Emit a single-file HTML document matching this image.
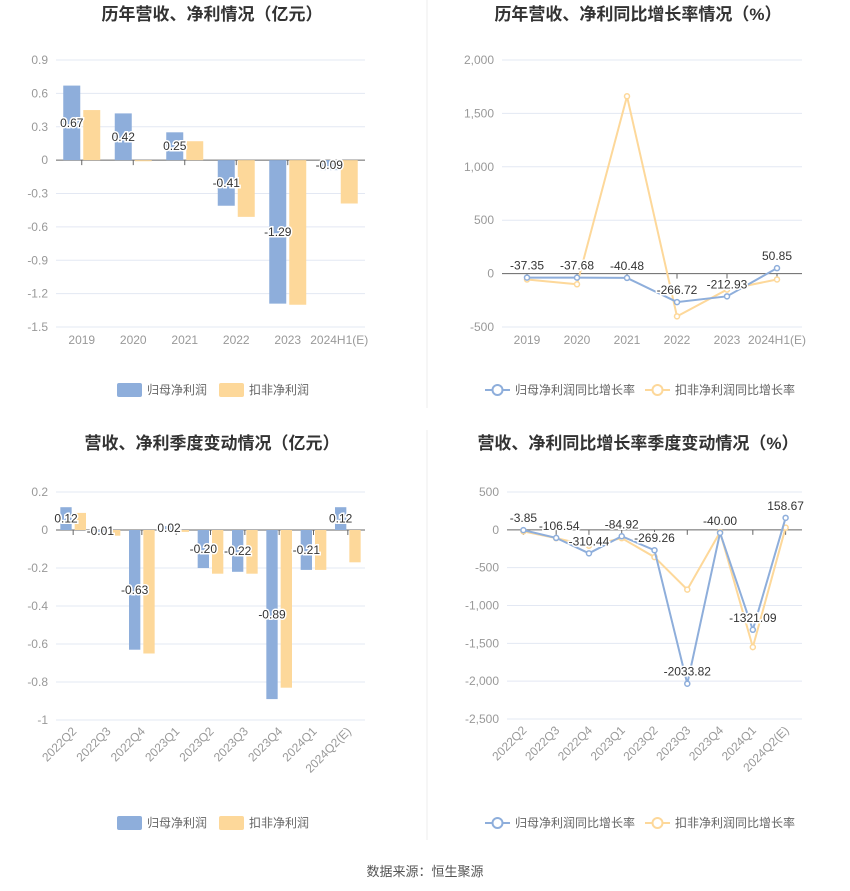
<!DOCTYPE html>
<html><head><meta charset="utf-8">
<style>
body{margin:0;background:#fff;font-family:"Liberation Sans","Noto Sans CJK SC",sans-serif;}
svg{display:block}
</style></head>
<body>
<svg id="s" width="850" height="891" xmlns="http://www.w3.org/2000/svg" font-family="Liberation Sans, Noto Sans CJK SC, sans-serif">
<line x1="427" y1="0" x2="427" y2="408" stroke="#eee"/>
<line x1="427" y1="430" x2="427" y2="840" stroke="#eee"/>
<text x="212" y="20" text-anchor="middle" font-size="17" font-weight="bold" fill="#333">历年营收、净利情况（亿元）</text>
<text x="638" y="20" text-anchor="middle" font-size="17" font-weight="bold" fill="#333">历年营收、净利同比增长率情况（%）</text>
<text x="212" y="449" text-anchor="middle" font-size="17" font-weight="bold" fill="#333">营收、净利季度变动情况（亿元）</text>
<text x="638" y="449" text-anchor="middle" font-size="17" font-weight="bold" fill="#333">营收、净利同比增长率季度变动情况（%）</text>
<text x="425" y="876" text-anchor="middle" font-size="13" fill="#555">数据来源：恒生聚源</text>
</svg>
<script>
const c1Cats=["2019","2020","2021","2022","2023","2024H1(E)"];
const c1Blue=[0.67,0.42,0.25,-0.41,-1.29,-0.09];
const c1Orange=[0.45,-0.01,0.17,-0.51,-1.30,-0.39];
const c1Ticks=[0.9,0.6,0.3,0,-0.3,-0.6,-0.9,-1.2,-1.5];
const c1TickLabels=["0.9","0.6","0.3","0","-0.3","-0.6","-0.9","-1.2","-1.5"];

const c2Cats=["2019","2020","2021","2022","2023","2024H1(E)"];
const c2Blue=[-37.35,-37.68,-40.48,-266.72,-212.93,50.85];
const c2Orange=[-55,-100,1660,-400,-150,-55];
const c2Ticks=[2000,1500,1000,500,0,-500];
const c2TickLabels=["2,000","1,500","1,000","500","0","-500"];

const c3Cats=["2022Q2","2022Q3","2022Q4","2023Q1","2023Q2","2023Q3","2023Q4","2024Q1","2024Q2(E)"];
const c3Blue=[0.12,-0.01,-0.63,0.02,-0.20,-0.22,-0.89,-0.21,0.12];
const c3Orange=[0.09,-0.03,-0.65,-0.01,-0.23,-0.23,-0.83,-0.21,-0.17];
const c3Ticks=[0.2,0,-0.2,-0.4,-0.6,-0.8,-1];
const c3TickLabels=["0.2","0","-0.2","-0.4","-0.6","-0.8","-1"];

const c4Cats=["2022Q2","2022Q3","2022Q4","2023Q1","2023Q2","2023Q3","2023Q4","2024Q1","2024Q2(E)"];
const c4Blue=[-3.85,-106.54,-310.44,-84.92,-269.26,-2033.82,-40.00,-1321.09,158.67];
const c4Orange=[-20,-110,-210,-110,-360,-790,-30,-1550,30];
const c4Ticks=[500,0,-500,-1000,-1500,-2000,-2500];
const c4TickLabels=["500","0","-500","-1,000","-1,500","-2,000","-2,500"];

const NS="http://www.w3.org/2000/svg";
const svg=document.getElementById('s');
const BLUE="#8eaedb",ORANGE="#fdd89a";
function mk(tag,attrs,parent){const e=document.createElementNS(NS,tag);for(const k in attrs)e.setAttribute(k,attrs[k]);(parent||svg).appendChild(e);return e;}
function txt(x,y,s,attrs){const e=mk('text',Object.assign({x:x,y:y},attrs));e.textContent=s;return e;}

function axes(o,ticks,labels,cats,rot,name){
  const g=mk('g',{});
  
  
  const y=v=>o.y0+(v-o.vmax)/(o.vmin-o.vmax)*(o.y1-o.y0);
  ticks.forEach((t,i)=>{
    const l=mk('line',{x1:o.x0,x2:o.x1,y1:y(t),y2:y(t),stroke:t===0?'#666':'#e3e8f3'},g);
    
    
    const tx=txt(o.x0-8,y(t)+4,labels[i],{'text-anchor':'end','font-size':12,fill:'#999'});
    
    
    g.appendChild(tx);
  });
  const bw=(o.x1-o.x0)/cats.length;
  const x=i=>o.x0+bw*(i+0.5);
  cats.forEach((c,i)=>{
    const tk=mk('line',{x1:x(i),x2:x(i),y1:y(0),y2:y(0)+5,stroke:'#666'},g);
    
    
    let t;
    if(rot){t=txt(x(i)+4,o.y1+12,c,{'text-anchor':'end','font-size':12,fill:'#999',transform:`rotate(-45 ${x(i)+4} ${o.y1+12})`});}
    else t=txt(x(i),o.y1+17,c,{'text-anchor':'middle','font-size':12,fill:'#999'});
    
    
    g.appendChild(t);
  });
  return {x,y,bw};
}
function label(x,y,s){
  const t=txt(x,y,s,{'text-anchor':'middle','font-size':12,fill:'#333',stroke:'#fff','stroke-width':3,'paint-order':'stroke'});
  
  
}
function barChart(o,ticks,labels,cats,blue,orange,rot,name,dec){
  const a=axes(o,ticks,labels,cats,rot,name);
  const w=a.bw*0.33;
  cats.forEach((c,i)=>{
    [[blue,BLUE,-1],[orange,ORANGE,1]].forEach(([arr,col,s])=>{
      const v=arr[i];const y0=a.y(0),yv=a.y(v);
      const r=mk('rect',{x:s<0?a.x(i)-w-1.5:a.x(i)+1.5,y:Math.min(y0,yv),width:w,height:Math.max(1,Math.abs(yv-y0)),fill:col});
      
      
    });
  });
  cats.forEach((c,i)=>{const v=blue[i];label(a.x(i)-w/2-1.5, a.y(v/2)+4, v.toFixed(2));});
}
function lineChart(o,ticks,labels,cats,blue,orange,rot,name,lblOff){
  const a=axes(o,ticks,labels,cats,rot,name);
  [[orange,ORANGE,'deducted-growth'],[blue,BLUE,'parent-growth']].forEach(([arr,col,n])=>{
    const p=mk('polyline',{points:arr.map((v,i)=>a.x(i)+','+a.y(v)).join(' '),fill:'none',stroke:col,'stroke-width':2});
    
    
    arr.forEach((v,i)=>{
      const c=mk('circle',{cx:a.x(i),cy:a.y(v),r:2.5,fill:'#fff',stroke:col,'stroke-width':1.5});
      
      
    });
  });
  blue.forEach((v,i)=>label(a.x(i)+(lblOff?lblOff[i]:0),a.y(v)-8,v.toFixed(2)));
}
function legend(cx,y,type,name){
  const g=mk('g',{});
  
  
  const n1=type==='bar'?'归母净利润':'归母净利润同比增长率';
  const n2=type==='bar'?'扣非净利润':'扣非净利润同比增长率';
  const w1=type==='bar'?92:150;
  const x0=cx-(type==='bar'?95:155);
  [[n1,BLUE,x0],[n2,ORANGE,x0+w1+10]].forEach(([s,col,x])=>{
    if(type==='bar'){mk('rect',{x:x,y:y-7,width:25,height:14,rx:2,fill:col},g);}
    else{mk('line',{x1:x,x2:x+25,y1:y,y2:y,stroke:col,'stroke-width':2},g);mk('circle',{cx:x+12.5,cy:y,r:5,fill:'#fff',stroke:col,'stroke-width':2},g);}
    const t=txt(x+30,y+4,s,{'font-size':12,fill:'#666'});g.appendChild(t);
  });
}
barChart({x0:56,x1:365,y0:60,y1:327,vmax:0.9,vmin:-1.5},c1Ticks,c1TickLabels,c1Cats,c1Blue,c1Orange,false,'annual-profit');
lineChart({x0:502,x1:802,y0:60,y1:327,vmax:2000,vmin:-500},c2Ticks,c2TickLabels,c2Cats,c2Blue,c2Orange,false,'annual-growth');
barChart({x0:56,x1:365,y0:492,y1:720,vmax:0.2,vmin:-1},c3Ticks,c3TickLabels,c3Cats,c3Blue,c3Orange,true,'quarterly-profit');
lineChart({x0:507,x1:802,y0:492,y1:719,vmax:500,vmin:-2500},c4Ticks,c4TickLabels,c4Cats,c4Blue,c4Orange,true,'quarterly-growth',[0,3,0,0,0,0,0,0,0]);
legend(212,390,'bar','legend-annual-profit');
legend(640,390,'line','legend-annual-growth');
legend(212,823,'bar','legend-quarterly-profit');
legend(640,823,'line','legend-quarterly-growth');
</script>
</body></html>
